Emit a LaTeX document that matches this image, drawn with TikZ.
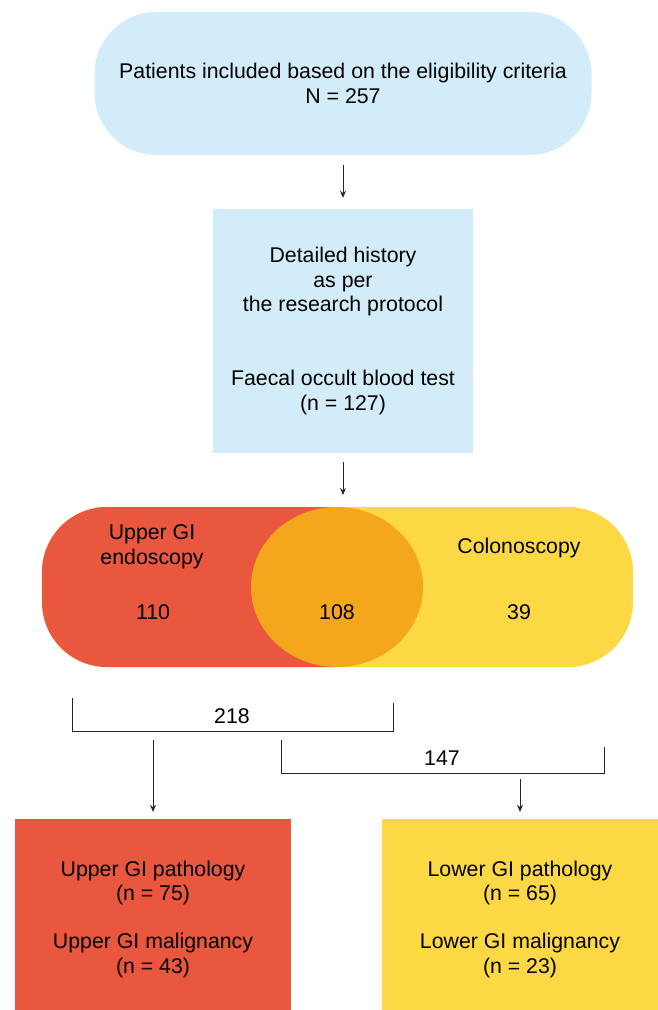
\documentclass[tikz,border=0pt]{standalone}
\usepackage{fontspec}
\setmainfont{Liberation Sans}
\usetikzlibrary{shapes.geometric, arrows.meta}
\definecolor{skyfill}{HTML}{D2ECF9}
\definecolor{upperred}{HTML}{E8573E}
\definecolor{loweryellow}{HTML}{FDD845}
\definecolor{bothorange}{HTML}{F4A71D}
\begin{document}
\begin{tikzpicture}[x=1pt, y=-1pt,
    every node/.style={font=\fontsize{21.3}{24.5}\selectfont, align=center, inner sep=0pt},
    arr/.style={-{Stealth[length=7pt, width=6pt]}, line width=0.8pt, black!85},
    bracket/.style={line width=0.8pt, black!85}]
    \useasboundingbox (0,0) rectangle (657,1010);

    % Inclusion and work-up
    \node[fill=skyfill, rounded corners=62pt, minimum width=497pt, minimum height=143pt] (incl) at (343,83.5)
        {Patients included based on the eligibility criteria\\N = 257};
    \node[fill=skyfill, minimum width=260pt, minimum height=244pt] (detail) at (343,331)
        {Detailed history\\as per\\the research protocol\\[49.5pt]Faecal occult blood test\\(n = 127)};
    \draw[arr] ([yshift=-10pt]incl.south) -- ([yshift=11pt]detail.north);

    % Venn of the two procedures
    \fill[loweryellow, rounded corners=65pt] (42,507) rectangle (633,667);
    \begin{scope}
        \clip (0,500) rectangle (337,680);
        \fill[upperred, rounded corners=65pt] (42,507) rectangle (633,667);
    \end{scope}
    \node[ellipse, fill=bothorange, minimum width=172pt, minimum height=160pt] (both) at (337,587) {};
    \coordinate (venntop) at (343,495);
    \draw[arr] ([yshift=-9pt]detail.south) -- (venntop);

    \node (uplab) at (152,547) {Upper GI\\endoscopy};
    \node (upnum) at (153,612) {110};
    \node (bothnum) at (337,612) {108};
    \node (colab) at (519,548) {Colonoscopy};
    \node (conum) at (519,612) {39};

    % Totals
    \draw[bracket] (72,698) -- (72,731) -- (393,731) -- (393,703);
    \node (upsum) at (232,716) {218};
    \draw[bracket] (281,740) -- (281,773) -- (604,773) -- (604,747);
    \node (losum) at (442,758) {147};
    \coordinate (upstart) at (153,740);
    \coordinate (lostart) at (520,779);

    % Findings
    \node[fill=upperred, minimum width=276pt, minimum height=200pt] (upbox) at (153,919)
        {Upper GI pathology\\(n = 75)\\[23.5pt]Upper GI malignancy\\(n = 43)};
    \node[fill=loweryellow, minimum width=276pt, minimum height=200pt] (lobox) at (520,919)
        {Lower GI pathology\\(n = 65)\\[23.5pt]Lower GI malignancy\\(n = 23)};
    \draw[arr] (upstart) -- ([yshift=7pt]upbox.north);
    \draw[arr] (lostart) -- ([yshift=7pt]lobox.north);
\end{tikzpicture}
\end{document}
